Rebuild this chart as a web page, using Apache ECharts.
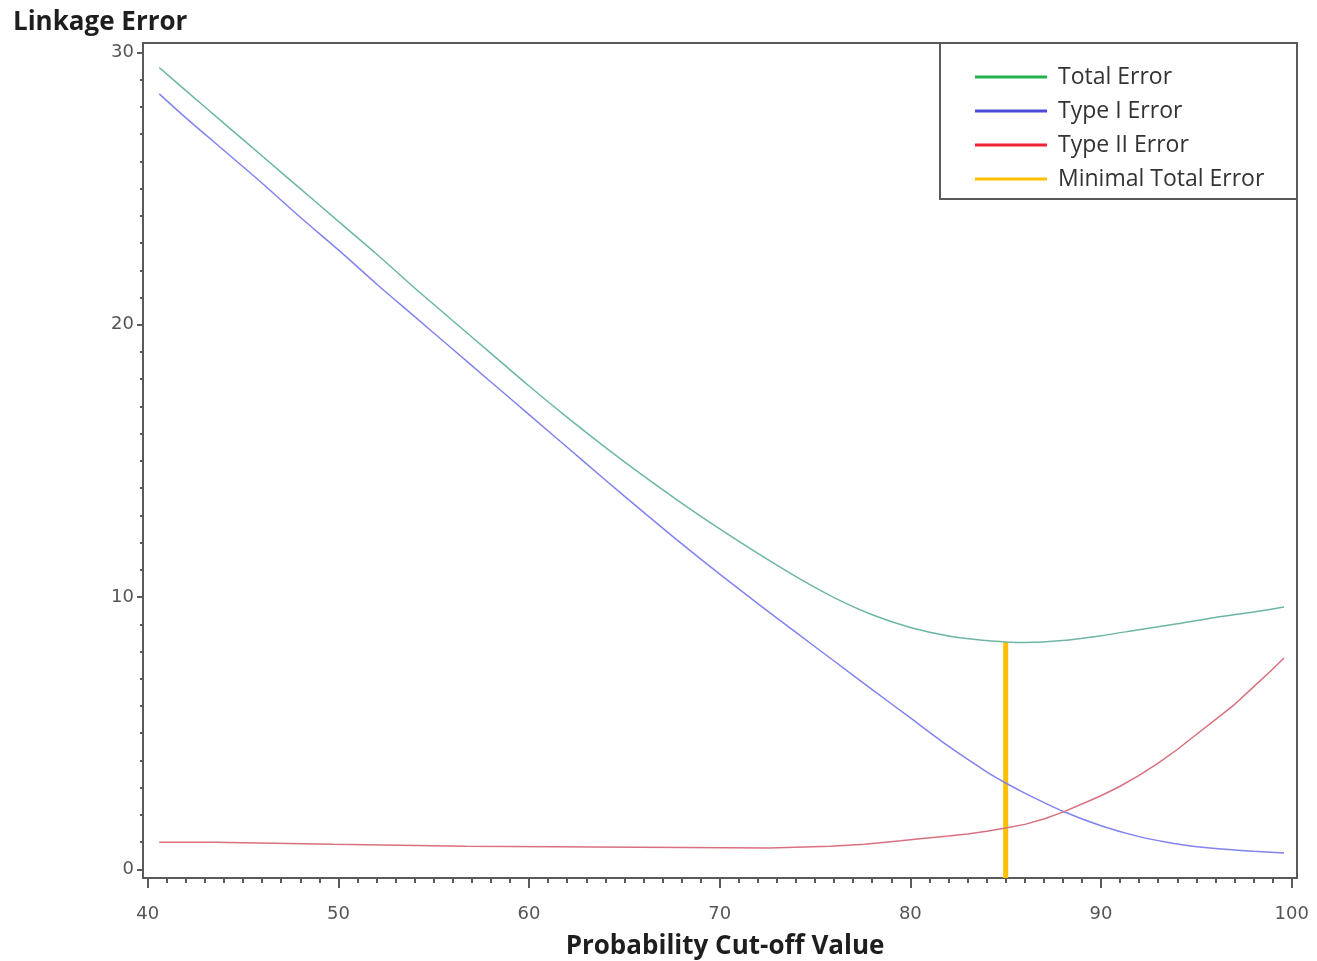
<!DOCTYPE html>
<html>
<head>
<meta charset="utf-8">
<script src="https://cdn.jsdelivr.net/npm/echarts@6/dist/echarts.min.js"></script>
<style>
  html, body { margin: 0; padding: 0; background: #fff; }
  #main { width: 1317px; height: 961px; }
</style>
</head>
<body>
<div id="main"></div>
<script>
// values
const cutoffs = [40.6, 42, 44, 46, 48, 50, 52, 54, 56, 58, 60, 62, 64, 66, 68, 70, 72, 74, 76, 78, 80, 82, 84, 85, 86, 88, 90, 92, 94, 96, 98, 99.6]
const totalError = [29.45, 28.6, 27.4, 26.2, 25.0, 23.8, 22.6, 21.35, 20.15, 18.95, 17.75, 16.6, 15.5, 14.45, 13.45, 12.5, 11.6, 10.75, 9.98, 9.35, 8.88, 8.57, 8.4, 8.35, 8.33, 8.4, 8.58, 8.8, 9.02, 9.25, 9.45, 9.63]
const typeIError = [28.48, 27.6, 26.4, 25.2, 23.95, 22.75, 21.5, 20.3, 19.1, 17.9, 16.7, 15.5, 14.3, 13.12, 11.96, 10.84, 9.76, 8.7, 7.65, 6.6, 5.56, 4.52, 3.58, 3.17, 2.8, 2.13, 1.6, 1.2, 0.93, 0.76, 0.66, 0.6]
const typeIICutoffs = [40.6, 43.5, 43.5, 49.7, 49.7, 56.7, 56.7, 72.6, 72.6, 75.8, 75.8, 77.6, 77.6, 79.5, 80.5, 82, 83, 84, 85, 86, 87, 88, 89, 90, 91, 92, 93, 94, 95, 96, 97, 98, 99, 99.6]
const typeIIError = [0.99, 0.99, 0.92, 0.92, 0.85, 0.85, 0.78, 0.78, 0.85, 0.85, 0.92, 0.92, 0.99, 1.05, 1.12, 1.22, 1.3, 1.4, 1.52, 1.65, 1.85, 2.1, 2.4, 2.7, 3.05, 3.45, 3.9, 4.4, 4.95, 5.5, 6.05, 6.7, 7.35, 7.76]
const minCutoff = 85
const minTotalError = 8.35

const xTickLabels = [40, 50, 60, 70, 80, 90, 100]
const yTickLabels = [0, 10, 20, 30]
const seriesNames = ['Total Error', 'Type I Error', 'Type II Error', 'Minimal Total Error']
const legendColors = ['#22b14c', '#4b4bd8', '#ee2233', '#ffc000']

const xMin = 39.75, xMax = 100.28
const yMin = -0.32, yMax = 30.35

let xMinor = [], yMinor = []
for (let v = 40; v <= 100; v++) xMinor.push(v)
for (let v = 0; v <= 30; v++) yMinor.push(v)

function pairs(xs, ys) {
    return xs.map((x, i) => [x, ys[i]])
}

const chart = echarts.init(document.getElementById('main'))

const labelStyle = { color: '#555', fontFamily: 'DejaVu Sans', fontSize: 18 }
const axisColor = '#5a5a5a'
const boldText = { fontFamily: 'Open Sans', fontWeight: 'bold', fontSize: 26, color: '#1e1e1e' }

const option = {
    animation: false,
    backgroundColor: '#fff',
    title: {
        text: 'Linkage Error',
        left: 8,
        top: 5,
        textStyle: boldText
    },
    grid: {
        left: 143, right: 20, top: 43, bottom: 83,
        outerBoundsMode: 'none',
        containLabel: false,
        show: true, borderColor: axisColor, borderWidth: 2
    },
    legend: {
        orient: 'vertical',
        left: 970,
        top: 60,
        itemWidth: 72,
        itemHeight: 3,
        itemGap: 10,
        icon: 'rect',
        textStyle: { fontFamily: 'Open Sans', fontSize: 23, color: '#333', lineHeight: 24, padding: [0, 0, 0, 6] },
        data: seriesNames.map((n, i) => ({ name: n, itemStyle: { color: legendColors[i] } }))
    },
    graphic: [{
        type: 'rect',
        shape: { x: 940, y: 43, width: 357, height: 156 },
        style: { fill: '#fff', stroke: axisColor, lineWidth: 2 },
        z: 1
    }],
    xAxis: [{
        type: 'value', min: xMin, max: xMax, position: 'bottom',
        axisLine: { onZero: false, lineStyle: { color: axisColor, width: 2 } },
        axisTick: { customValues: xMinor, length: 5, lineStyle: { color: axisColor, width: 2 } },
        axisLabel: { show: false },
        splitLine: { show: false },
        name: 'Probability Cut-off Value',
        nameLocation: 'middle',
        nameGap: 56,
        nameTextStyle: Object.assign({ padding: [0, 0, 0, 10] }, boldText)
    }, {
        type: 'value', min: xMin, max: xMax, position: 'bottom',
        axisLine: { show: false, onZero: false },
        axisTick: { customValues: xTickLabels, length: 10, lineStyle: { color: axisColor, width: 2 } },
        axisLabel: Object.assign({ customValues: xTickLabels, margin: 27 }, labelStyle),
        splitLine: { show: false }
    }],
    yAxis: [{
        type: 'value', min: yMin, max: yMax, position: 'left',
        axisLine: { show: true, onZero: false, lineStyle: { color: axisColor, width: 2 } },
        axisTick: { customValues: yMinor, length: 3, lineStyle: { color: axisColor, width: 2 } },
        axisLabel: { show: false },
        splitLine: { show: false }
    }, {
        type: 'value', min: yMin, max: yMax, position: 'left',
        axisLine: { show: false, onZero: false },
        axisTick: { customValues: yTickLabels, length: 6, lineStyle: { color: axisColor, width: 2 } },
        axisLabel: Object.assign({ customValues: yTickLabels, margin: 9 }, labelStyle),
        splitLine: { show: false }
    }],
    series: [{
        name: seriesNames[0],
        type: 'line',
        smooth: 0.3,
        showSymbol: false,
        color: legendColors[0],
        lineStyle: { color: '#6db6a6', width: 1.5 },
        data: pairs(cutoffs, totalError),
        z: 3
    }, {
        name: seriesNames[1],
        type: 'line',
        smooth: 0.3,
        showSymbol: false,
        color: legendColors[1],
        lineStyle: { color: '#8282f0', width: 1.5 },
        data: pairs(cutoffs, typeIError),
        z: 3
    }, {
        name: seriesNames[2],
        type: 'line',
        showSymbol: false,
        color: legendColors[2],
        lineStyle: { color: '#d9707f', width: 1.5 },
        data: pairs(typeIICutoffs, typeIIError),
        z: 3
    }, {
        name: seriesNames[3],
        type: 'line',
        showSymbol: false,
        color: legendColors[3],
        lineStyle: { color: legendColors[3], width: 5 },
        data: [[minCutoff, yMin], [minCutoff, minTotalError]],
        z: 2
    }]
}

chart.setOption(option)
</script>
</body>
</html>
